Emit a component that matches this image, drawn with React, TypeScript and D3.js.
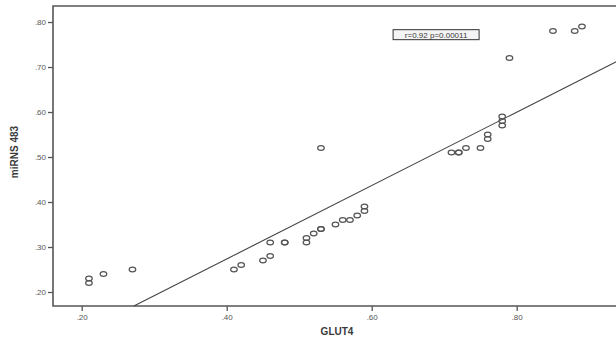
import { useEffect, useRef } from "react";
import * as d3 from "d3";

const glut4 = [0.21, 0.21, 0.23, 0.27, 0.41, 0.42, 0.45, 0.46, 0.46, 0.48, 0.48, 0.51, 0.51, 0.52, 0.53, 0.53, 0.55, 0.56, 0.57, 0.58, 0.59, 0.59, 0.53, 0.71, 0.72, 0.72, 0.73, 0.75, 0.76, 0.76, 0.78, 0.78, 0.78, 0.79, 0.85, 0.88, 0.89];
const mirns = [0.23, 0.22, 0.24, 0.25, 0.25, 0.26, 0.27, 0.28, 0.31, 0.31, 0.31, 0.31, 0.32, 0.33, 0.34, 0.34, 0.35, 0.36, 0.36, 0.37, 0.38, 0.39, 0.52, 0.51, 0.51, 0.51, 0.52, 0.52, 0.54, 0.55, 0.57, 0.58, 0.59, 0.72, 0.78, 0.78, 0.79];
const xTicks = [0.2, 0.4, 0.6, 0.8];
const yTicks = [0.2, 0.3, 0.4, 0.5, 0.6, 0.7, 0.8];
const fitSlope = 0.816;
const fitIntercept = -0.053;
const statsLabel = "r=0.92 p=0.00011";

const App = () => {
    const chartRef = useRef<SVGSVGElement>(null);

    useEffect(() => {
        const W = 616, H = 341;
        const svg = d3.select(chartRef.current).attr("width", W).attr("height", H);
        svg.selectAll("*").remove();

        const x = d3.scaleLinear().domain([0.1604, 0.94]).range([53, 53 + (0.94 - 0.1604) * 725]);
        const y = d3.scaleLinear().domain([0.1689, 0.8356]).range([306, 6]);
        const ink = "#3a3a3a";
        const font = "Liberation Sans, Arial, sans-serif";

        svg.append("rect").attr("width", W).attr("height", H).attr("fill", "white");

        // frame
        const [x0, x1] = x.range();
        const [yb, yt] = y.range();
        svg.append("path")
            .attr("d", `M${x1},${yt}H${x0}V${yb}H${x1}`)
            .attr("fill", "none")
            .attr("stroke", "#555")
            .attr("stroke-width", 1.6);

        // axes
        const yAxis = svg.append("g").attr("transform", `translate(${x0},0)`)
            .call(d3.axisLeft(y).tickValues(yTicks).tickSize(5).tickPadding(2).tickFormat(d => d3.format(".2f")(+d).replace(/^0/, "")));
        const xAxis = svg.append("g").attr("transform", `translate(0,${yb})`)
            .call(d3.axisBottom(x).tickValues(xTicks).tickSize(5).tickPadding(3).tickFormat(d => d3.format(".2f")(+d).replace(/^0/, "")));
        [yAxis, xAxis].forEach(a => {
            a.select(".domain").remove();
            a.selectAll("line").attr("stroke", "#555").attr("stroke-width", 1.3);
            a.selectAll("text").attr("fill", "#555").style("font-family", font).style("font-size", "8px");
        });

        // fit line
        const xs = [(y.domain()[0] - fitIntercept) / fitSlope, x.domain()[1]];
        const line = d3.line<number>().x(d => x(d)).y(d => y(fitIntercept + fitSlope * d));
        svg.append("path")
            .datum(xs)
            .attr("d", line)
            .attr("fill", "none")
            .attr("stroke", "#444")
            .attr("stroke-width", 1.1);

        // points
        svg.selectAll(".pt")
            .data(glut4.map((g, i) => ({ g, m: mirns[i] })))
            .enter()
            .append("ellipse")
            .attr("class", "pt")
            .attr("cx", d => x(d.g))
            .attr("cy", d => y(d.m))
            .attr("rx", 3.3)
            .attr("ry", 2.3)
            .attr("fill", "none")
            .attr("stroke", "#555")
            .attr("stroke-width", 1.2);

        // stats box
        const bx = x(0.6295), by = y(0.783);
        svg.append("rect")
            .attr("x", bx).attr("y", by)
            .attr("width", 86).attr("height", 10)
            .attr("fill", "#f4f4f4")
            .attr("stroke", "#333")
            .attr("stroke-width", 1);
        svg.append("text")
            .attr("x", bx + 43).attr("y", by + 8)
            .attr("text-anchor", "middle")
            .style("font-family", font)
            .style("font-size", "8px")
            .attr("fill", ink)
            .text(statsLabel);

        // axis titles
        svg.append("text")
            .attr("x", 337).attr("y", 335)
            .attr("text-anchor", "middle")
            .style("font-family", font)
            .style("font-size", "10px")
            .style("font-weight", "bold")
            .attr("fill", ink)
            .text("GLUT4");
        svg.append("text")
            .attr("transform", "translate(18,152) rotate(-90)")
            .attr("text-anchor", "middle")
            .style("font-family", font)
            .style("font-size", "10px")
            .style("font-weight", "bold")
            .attr("fill", ink)
            .text("miRNS 483");
    }, []);

    return <svg ref={chartRef} style={{ position: "absolute", left: 0, top: 0, display: "block" }}></svg>;
};

export default App;
